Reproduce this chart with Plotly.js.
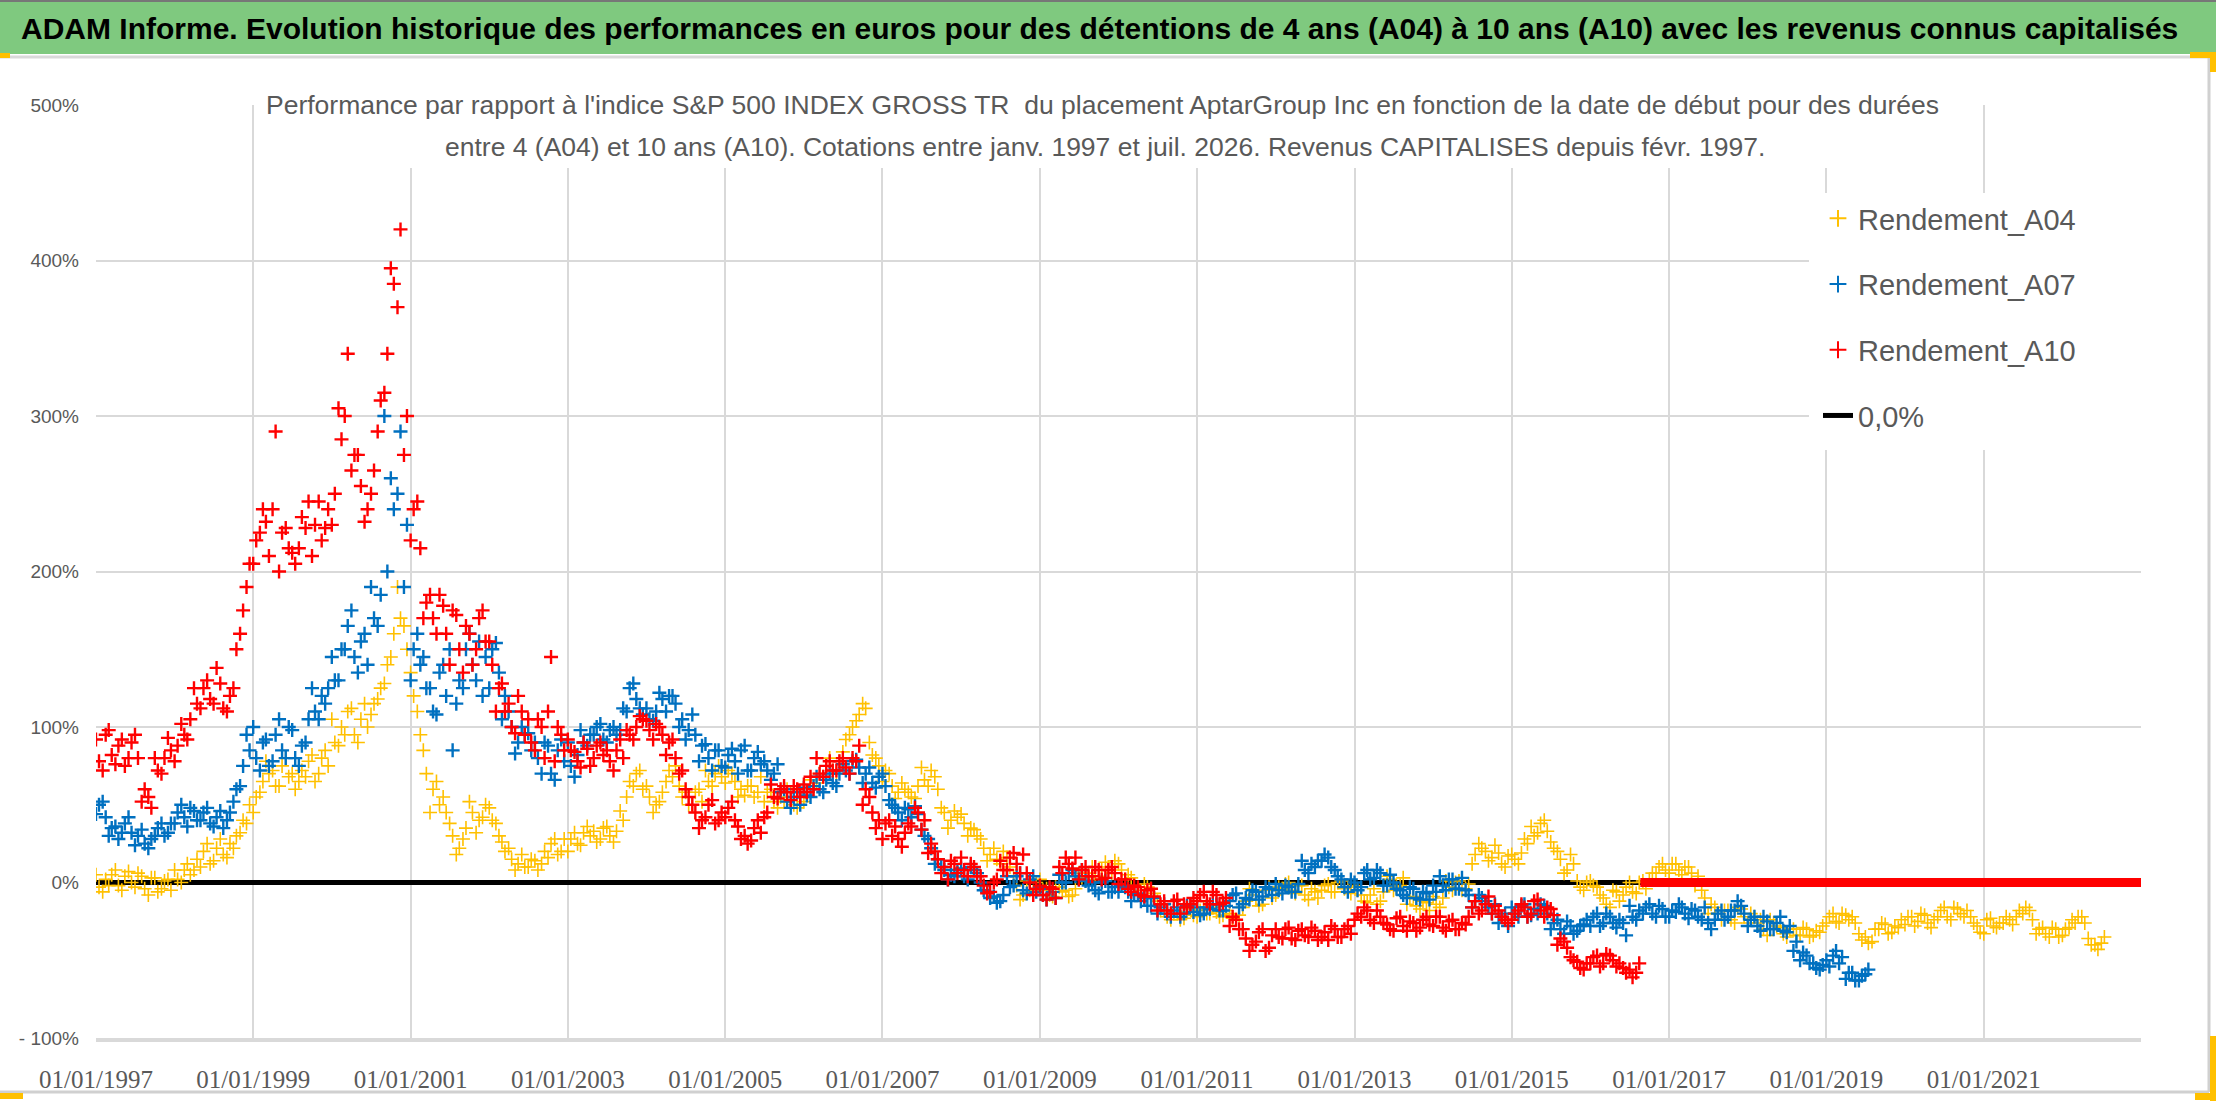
<!DOCTYPE html>
<html>
<head>
<meta charset="utf-8">
<script src="https://cdn.plot.ly/plotly-3.0.1.min.js"></script>
<style>
  html, body { margin: 0; padding: 0; background: #fff; }
  #chart { width: 2216px; height: 1102px; }
</style>
</head>
<body>
<div id="chart"></div>
<script>
// readings in %, one row per year starting January 1997.
// "mid" = around the 15th of each month, "early" = around the 1st (other side of the band)
var a04Mid = [
  -3, 2, 5, -2, 4, 0, 6, -4, 3, -6, 1, -5,            // 1997
  2, 8, 5, 15, 20, 12, 22, 18, 25, 30, 40, 50,        // 1998
  55, 65, 70, 62, 75, 68, 60, 72, 78, 65, 80, 75,     // 1999
  90, 100, 110, 95, 105, 100, 115, 125, 140, 160, 170, 150, // 2000
  120, 95, 70, 60, 50, 45, 30, 22, 35, 45, 40, 50,    // 2001
  40, 30, 20, 15, 12, 10, 15, 8, 20, 25, 18, 28,      // 2002
  28, 25, 32, 30, 26, 35, 30, 33, 40, 65, 70, 60,     // 2003
  55, 50, 58, 72, 75, 55, 50, 58, 52, 65, 70, 68,     // 2004
  72, 65, 60, 62, 55, 68, 58, 52, 55, 60, 50, 55,     // 2005
  58, 60, 70, 75, 72, 78, 92, 100, 108, 112, 82, 75,  // 2006
  72, 62, 58, 60, 55, 62, 66, 72, 60, 45, 40, 42,     // 2007
  38, 35, 30, 22, 18, 15, 20, 10, -2, -8, -5, 0,      // 2008
  -5, -8, -3, -6, -9, -4, 3, 6, 2, 8, 10, 14,         // 2009
  8, 5, -2, -5, -3, -7, -18, -22, -20, -24, -19, -21, // 2010
  -18, -20, -16, -22, -18, -23, -21, -12, -8, -15, -5, -10, // 2011
  -3, -1, -5, -2, -8, -4, -10, -2, -6, 0, -4, -7,     // 2012
  -5, -12, -8, -14, -6, 2, -3, 3, -10, -15, -12, -18, // 2013
  -14, -10, -3, 0, -5, -1, 18, 22, 14, 24, 12, 17,    // 2014
  15, 19, 25, 30, 38, 33, 22, 15, 8, 12, -3, 0,       // 2015
  -2, -8, -14, -5, -12, -3, -6, 0, -4, 6, 10, 8,      // 2016
  12, 8, 10, 6, 4, -10, -14, -20, -18, -24, -16, -22, // 2017
  -20, -26, -30, -24, -28, -33, -30, -34, -29, -35, -31, -28, // 2018
  -22, -25, -20, -24, -26, -37, -39, -30, -26, -33, -28, -24, // 2019
  -22, -28, -20, -26, -24, -18, -22, -16, -20, -18, -26, -32, // 2020
  -24, -28, -26, -22, -27, -18, -16, -24, -30, -33, -29, -35, // 2021
  -30, -24, -22, -26, -40, -43, -35                   // 2022
];
var a04Early = [
  5, -6, -2, 8, -5, 7, -3, 4, -8, 3, -4, 2,           // 1997
  8, 0, 12, 8, 10, 25, 14, 28, 16, 22, 32, 38,        // 1998
  45, 58, 78, 72, 62, 80, 70, 65, 68, 82, 70, 85,     // 1999
  105, 88, 95, 112, 90, 115, 108, 118, 128, 145, 190, 165, // 2000
  135, 110, 85, 45, 65, 55, 38, 18, 28, 52, 32, 42,   // 2001
  48, 38, 26, 22, 8, 18, 10, 14, 12, 16, 28, 20,      // 2002
  20, 32, 24, 36, 33, 28, 36, 26, 46, 55, 62, 72,     // 2003
  62, 45, 52, 65, 68, 62, 58, 50, 60, 72, 62, 75,     // 2004
  64, 70, 55, 56, 62, 58, 52, 60, 48, 52, 58, 48,     // 2005
  52, 66, 64, 68, 80, 70, 84, 95, 104, 115, 90, 80,   // 2006
  65, 70, 54, 64, 58, 54, 74, 62, 68, 48, 35, 46,     // 2007
  44, 30, 34, 28, 14, 22, 12, 16, 4, -11, 1, -6,      // 2008
  2, -4, -9, -3, -5, -8, 6, 1, 10, 4, 13, 6,          // 2009
  12, 2, 3, -8, -1, -4, -12, -18, -24, -20, -23, -17, // 2010
  -22, -17, -20, -19, -21, -20, -24, -16, -4, -11, -14, -3, // 2011
  -8, -4, 0, -7, -2, -11, -6, -5, -1, -6, 1, -3,      // 2012
  -2, -8, -13, -4, -12, 4, -5, -2, -14, -9, -17, -13, // 2013
  -9, -16, 1, -5, 1, -4, 12, 25, 20, 16, 19, 10,      // 2014
  18, 12, 28, 36, 32, 40, 26, 20, 6, 18, 1, -5,       // 2015
  1, -3, -10, -16, -6, -8, 0, -7, 1, 2, 6, 12,        // 2016
  6, 12, 5, 10, -2, -5, -20, -16, -24, -18, -26, -17, // 2017
  -26, -22, -24, -34, -26, -29, -35, -30, -34, -30, -34, -32, // 2018
  -26, -20, -26, -21, -22, -33, -35, -38, -30, -27, -32, -29, // 2019
  -27, -22, -25, -21, -29, -22, -16, -24, -17, -22, -22, -28, // 2020
  -33, -23, -29, -26, -24, -22, -20, -18, -33, -29, -35, -30, // 2021
  -34, -29, -26, -22, -36, -40, -39                   // 2022
];

var a07Mid = [
  50, 42, 35, 28, 38, 32, 30, 25, 28, 35, 30, 38,     // 1997
  45, 42, 48, 40, 45, 38, 42, 35, 45, 60, 75, 85,     // 1998
  80, 90, 75, 95, 85, 100, 80, 88, 105, 110, 120, 125, // 1999
  130, 150, 165, 145, 155, 140, 170, 185, 200, 240, 290, 230, // 2000
  150, 140, 125, 110, 135, 120, 85, 130, 150, 140, 155, 145, // 2001
  150, 135, 120, 100, 90, 95, 85, 80, 90, 70, 85, 78, // 2002
  75, 82, 90, 95, 100, 92, 98, 95, 112, 125, 118, 108, // 2003
  105, 110, 118, 120, 115, 105, 98, 95, 88, 80, 85, 75, // 2004
  82, 78, 85, 72, 80, 76, 72, 70, 58, 52, 55, 50,     // 2005
  56, 62, 60, 66, 64, 70, 72, 78, 74, 70, 64, 68,     // 2006
  62, 50, 45, 48, 42, 44, 30, 22, 15, 8, 5, 8,        // 2007
  4, 10, 6, -5, -10, -13, -8, -3, 4, -5, 2, -6,       // 2008
  -8, -4, -10, 0, 6, 4, 8, -2, -5, 0, -6, -3,         // 2009
  -2, -6, -8, -12, -15, -10, -16, -20, -18, -22, -15, -19, // 2010
  -21, -16, -14, -18, -15, -8, -16, -10, -5, -11, -3, -8, // 2011
  -5, -2, -6, -1, 8, 12, 14, 18, 10, 4, -3, 2,        // 2012
  -5, 6, 2, 8, -2, 5, -4, -8, -3, -10, -6, -11,       // 2013
  -6, -2, 2, -4, 3, -8, -12, -10, -16, -14, -22, -28, // 2014
  -20, -15, -22, -17, -14, -20, -26, -30, -25, -33, -28, -24, // 2015
  -22, -28, -20, -26, -24, -34, -22, -18, -16, -20, -15, -22, // 2016
  -18, -14, -20, -17, -22, -16, -30, -20, -24, -18, -12, -20, // 2017
  -24, -28, -22, -30, -26, -31, -28, -38, -45, -52, -55, -53, // 2018
  -54, -44, -48, -58, -63, -60, -56                   // 2019
];
var a07Early = [
  44, 52, 30, 36, 32, 42, 24, 34, 22, 30, 38, 32,     // 1997
  38, 50, 36, 46, 40, 48, 36, 46, 40, 52, 62, 95,     // 1998
  100, 72, 92, 78, 105, 80, 98, 75, 90, 125, 105, 115, // 1999
  145, 130, 150, 175, 135, 160, 190, 165, 300, 260, 250, 190, // 2000
  130, 160, 145, 125, 108, 140, 150, 115, 125, 160, 130, 120, // 2001
  125, 154, 105, 110, 83, 100, 96, 90, 70, 88, 66, 92, // 2002
  90, 68, 98, 88, 95, 102, 90, 100, 98, 110, 128, 112, // 2003
  112, 104, 122, 110, 120, 100, 92, 108, 78, 89, 72, 85, // 2004
  74, 86, 70, 88, 72, 84, 78, 66, 76, 60, 48, 58,     // 2005
  61, 55, 68, 58, 70, 62, 76, 70, 79, 64, 74, 61,     // 2006
  70, 53, 48, 40, 47, 49, 34, 28, 12, 10, 2, 4,       // 2007
  9, 2, 8, 0, -6, -9, -12, 4, -2, 6, -7, 4,           // 2008
  -3, -11, -6, 5, 0, 8, 2, 1, 0, -7, 1, -6,           // 2009
  -6, -3, -12, -7, -10, -15, -20, -14, -22, -16, -20, -14, // 2010
  -16, -20, -17, -14, -18, -12, -7, -14, -11, -6, -9, -4, // 2011
  -1, -7, -3, -6, 14, 6, 10, 14, 16, 8, 2, -6,        // 2012
  0, -3, 8, 3, 6, -2, 0, -5, -10, -4, -11, -7,        // 2013
  -2, 4, -5, 2, -4, -5, -16, -8, -12, -20, -26, -20,  // 2014
  -16, -22, -14, -21, -20, -15, -30, -24, -33, -28, -31, -27, // 2015
  -28, -20, -26, -22, -29, -26, -15, -24, -20, -14, -22, -17, // 2016
  -22, -19, -16, -23, -18, -24, -26, -24, -18, -22, -18, -15, // 2017
  -28, -22, -31, -25, -30, -22, -32, -44, -50, -47, -52, -56, // 2018
  -50, -47, -52, -62, -58, -63, -59                   // 2019
];

var a10Mid = [
  78, 95, 82, 88, 75, 90, 80, 60, 48, 72, 80, 85,     // 1997
  88, 95, 105, 115, 125, 118, 138, 112, 120, 150, 175, 205, // 1998
  220, 240, 210, 290, 225, 215, 205, 235, 245, 230, 220, 240, // 1999
  250, 285, 340, 275, 255, 240, 265, 310, 340, 385, 420, 300, // 2000
  240, 215, 180, 170, 185, 160, 175, 150, 165, 140, 170, 155, // 2001
  140, 125, 110, 100, 120, 95, 90, 105, 80, 145, 100, 85, // 2002
  85, 78, 90, 75, 88, 82, 78, 85, 80, 95, 100, 105,   // 2003
  98, 102, 95, 90, 80, 72, 55, 45, 40, 50, 38, 45,    // 2004
  48, 40, 28, 25, 35, 32, 45, 55, 60, 58, 62, 55,     // 2005
  58, 60, 70, 75, 72, 78, 74, 80, 88, 60, 45, 40,     // 2006
  38, 30, 28, 32, 36, 45, 40, 25, 15, 10, 14, 6,      // 2007
  8, 12, 4, -2, -6, 2, 8, 16, 12, 18, 0, -4,          // 2008
  -8, -3, -10, 6, 12, 16, 8, 4, 10, 2, 8, 6,          // 2009
  2, -4, -2, -8, -5, -9, -14, -18, -12, -20, -16, -10, // 2010
  -8, -12, -6, -14, -10, -22, -30, -36, -40, -32, -44, -34, // 2011
  -35, -30, -36, -31, -34, -29, -37, -32, -28, -35, -30, -33, // 2012
  -20, -16, -24, -18, -26, -30, -23, -28, -25, -31, -24, -27, // 2013
  -22, -29, -25, -30, -26, -22, -12, -18, -9, -15, -22, -26, // 2014
  -20, -14, -22, -12, -18, -16, -21, -36, -42, -50, -55, -52, // 2015
  -48, -54, -46, -50, -52, -58, -61, -52              // 2016
];
var a10Early = [
  92, 72, 98, 76, 92, 80, 95, 52, 55, 80, 70, 93,     // 1997
  78, 102, 92, 125, 112, 130, 115, 128, 110, 125, 160, 190, // 1998
  205, 225, 232, 240, 200, 228, 212, 215, 228, 210, 245, 228, // 1999
  230, 305, 300, 265, 275, 232, 250, 290, 315, 395, 370, 275, // 2000
  220, 245, 170, 185, 160, 178, 140, 172, 135, 160, 150, 175, // 2001
  155, 110, 128, 115, 96, 110, 105, 85, 100, 110, 78, 95, // 2002
  92, 84, 74, 86, 80, 90, 85, 72, 92, 98, 92, 107,    // 2003
  104, 92, 100, 82, 92, 70, 60, 50, 35, 42, 53, 40,   // 2004
  42, 52, 36, 30, 27, 40, 42, 63, 54, 62, 53, 60,     // 2005
  63, 68, 80, 68, 78, 72, 80, 70, 78, 50, 55, 35,     // 2006
  28, 40, 36, 23, 38, 48, 34, 19, 20, 6, 2, 12,       // 2007
  16, 4, 10, 4, -7, 0, 14, 8, 19, 6, 6, -8,           // 2008
  -2, -11, -4, 10, 16, 9, 2, 10, 4, 8, 3, 10,         // 2009
  -1, 2, -6, -3, -9, -4, -18, -12, -20, -11, -14, -14, // 2010
  -12, -6, -14, -8, -13, -28, -24, -30, -44, -38, -30, -42, // 2011
  -30, -36, -29, -37, -30, -35, -31, -35, -37, -30, -35, -28, // 2012
  -24, -22, -18, -26, -22, -27, -31, -22, -31, -26, -29, -22, // 2013
  -28, -22, -31, -24, -30, -27, -16, -20, -14, -20, -18, -24, // 2014
  -24, -18, -16, -20, -11, -22, -17, -40, -38, -48, -51, -56, // 2015
  -52, -47, -52, -47, -54, -55, -56, -58              // 2016
];
var startYear = 1997;

// after the last start date the series sit at 0 until the end of the axis
var a04TailX = ['2022-07-20', '2023-01-01'];
var a10TailX = ['2016-08-20', '2023-01-01'];
var tailY = [0, 0];

var zeroX = ['1997-01-01', '2023-01-01'];
var zeroY = [0, 0];

var xTicks = ['1997-01-01', '1999-01-01', '2001-01-01', '2003-01-01', '2005-01-01', '2007-01-01',
  '2009-01-01', '2011-01-01', '2013-01-01', '2015-01-01', '2017-01-01', '2019-01-01', '2021-01-01'];
var yTicks = [-100, 0, 100, 200, 300, 400, 500];
var yTickText = ['- 100%', '0%', '100%', '200%', '300%', '400%', '500%'];

function monthDates(y0, n, day) {
  var out = [];
  for (var i = 0; i < n; i++) {
    var y = y0 + Math.floor(i / 12);
    var m = (i % 12) + 1;
    out.push(y + '-' + (m < 10 ? '0' + m : m) + '-' + day);
  }
  return out;
}

var GREY = '#595959';
var YELLOW = '#FFC000', BLUE = '#0070C0', RED = '#FF0000';

// pixel -> paper helpers (plot area 96..2141 x 105..1038)
function px(x) { return (x - 96) / 2045; }
function py(y) { return (1038 - y) / 933; }

function crossTrace(name, mid, early, color, w, rank) {
  return {
    type: 'scatter', mode: 'markers', name: name,
    x: monthDates(startYear, mid.length, '15').concat(monthDates(startYear, early.length, '01')),
    y: mid.concat(early),
    legendgroup: name, legendrank: rank,
    marker: { symbol: 'cross-thin', size: 10, color: color, line: { color: color, width: w } },
    hoverinfo: 'x+y'
  };
}

var traces = [
  { type: 'scatter', mode: 'lines', name: '0,0%', x: zeroX, y: zeroY,
    legendgroup: 'zero', legendrank: 4, line: { color: '#000', width: 5 } },
  crossTrace('Rendement_A04', a04Mid, a04Early, YELLOW, 1.6, 1),
  { type: 'scatter', mode: 'lines', x: a04TailX, y: tailY, showlegend: false,
    line: { color: YELLOW, width: 9 }, hoverinfo: 'skip' },
  crossTrace('Rendement_A07', a07Mid, a07Early, BLUE, 2.4, 2),
  crossTrace('Rendement_A10', a10Mid, a10Early, RED, 2.4, 3),
  { type: 'scatter', mode: 'lines', x: a10TailX, y: tailY, showlegend: false,
    line: { color: RED, width: 9 }, hoverinfo: 'skip' }
];

var shapes = [
  // green title band
  { type: 'rect', xref: 'paper', yref: 'paper', x0: px(0), x1: px(2216), y0: py(54), y1: py(0),
    fillcolor: '#7fc97f', line: { width: 0 }, layer: 'below' },
  { type: 'line', xref: 'paper', yref: 'paper', x0: px(0), x1: px(2216), y0: py(1), y1: py(1),
    line: { color: '#777', width: 2 } },
  // chart frame
  { type: 'line', xref: 'paper', yref: 'paper', x0: px(0), x1: px(2209), y0: py(57), y1: py(57),
    line: { color: '#d9d9d9', width: 3 } },
  { type: 'line', xref: 'paper', yref: 'paper', x0: px(2209), x1: px(2209), y0: py(57), y1: py(1092),
    line: { color: '#d0d0d0', width: 3 } },
  { type: 'line', xref: 'paper', yref: 'paper', x0: px(0), x1: px(2209), y0: py(1092), y1: py(1092),
    line: { color: '#d0d0d0', width: 3 } },
  // selection handles
  { type: 'rect', xref: 'paper', yref: 'paper', x0: px(0), x1: px(10), y0: py(58), y1: py(53),
    fillcolor: '#FFC000', line: { width: 0 } },
  { type: 'rect', xref: 'paper', yref: 'paper', x0: px(2190), x1: px(2216), y0: py(58), y1: py(52),
    fillcolor: '#FFC000', line: { width: 0 } },
  { type: 'rect', xref: 'paper', yref: 'paper', x0: px(2210), x1: px(2216), y0: py(72), y1: py(52),
    fillcolor: '#FFC000', line: { width: 0 } },
  { type: 'rect', xref: 'paper', yref: 'paper', x0: px(0), x1: px(23), y0: py(1099), y1: py(1093),
    fillcolor: '#FFC000', line: { width: 0 } },
  { type: 'rect', xref: 'paper', yref: 'paper', x0: px(2210), x1: px(2216), y0: py(1101), y1: py(1036),
    fillcolor: '#FFC000', line: { width: 0 } },
  { type: 'rect', xref: 'paper', yref: 'paper', x0: px(2195), x1: px(2216), y0: py(1100), y1: py(1093),
    fillcolor: '#FFC000', line: { width: 0 } },
  // white block behind the chart title (no data there, legend/annotations stay on top)
  { type: 'rect', xref: 'paper', yref: 'paper', x0: px(258), x1: px(1948), y0: py(168), y1: py(84),
    fillcolor: '#fff', line: { width: 0 }, layer: 'above' },
  // white block behind the legend, up to the right edge of the plot
  { type: 'rect', xref: 'paper', yref: 'paper', x0: px(1809), x1: px(2142), y0: py(450), y1: py(193),
    fillcolor: '#fff', line: { width: 0 }, layer: 'above' }
];

var annotations = [
  { xref: 'paper', yref: 'paper', x: px(1099), y: py(28), xanchor: 'center', yanchor: 'middle',
    showarrow: false,
    text: 'ADAM Informe. Evolution historique des performances en euros pour des détentions de 4 ans (A04) à 10 ans (A10) avec les revenus connus capitalisés',
    font: { family: 'Liberation Sans', size: 30, color: '#000', weight: 'bold' } },
  { xref: 'paper', yref: 'paper', x: px(1102), y: py(105), xanchor: 'center', yanchor: 'middle',
    showarrow: false,
    text: "Performance par rapport à l'indice S&amp;P 500 INDEX GROSS TR  du placement AptarGroup Inc en fonction de la date de début pour des durées",
    font: { family: 'Liberation Sans', size: 26.5, color: GREY } },
  { xref: 'paper', yref: 'paper', x: px(1105), y: py(147), xanchor: 'center', yanchor: 'middle',
    showarrow: false,
    text: 'entre 4 (A04) et 10 ans (A10). Cotations entre janv. 1997 et juil. 2026. Revenus CAPITALISES depuis févr. 1997.',
    font: { family: 'Liberation Sans', size: 26.5, color: GREY } }
];

var layout = {
  width: 2216, height: 1102, autosize: false,
  margin: { l: 96, r: 75, t: 105, b: 64, pad: 0 },
  paper_bgcolor: '#fff', plot_bgcolor: '#fff',
  font: { family: 'Liberation Sans', color: GREY },
  showlegend: true,
  legend: {
    x: px(1818), y: py(193), xanchor: 'left', yanchor: 'top',
    bgcolor: '#fff', borderwidth: 0, tracegroupgap: 25,
    font: { family: 'Liberation Sans', size: 29, color: GREY },
    itemsizing: 'constant'
  },
  xaxis: {
    type: 'date', range: ['1997-01-01', '2023-01-01'],
    tickvals: xTicks, tickformat: '%d/%m/%Y',
    showgrid: true, gridcolor: '#d9d9d9', gridwidth: 2,
    showline: true, linecolor: '#d9d9d9', linewidth: 4,
    zeroline: false, ticks: '', ticklabelstandoff: 16,
    tickfont: { family: 'Liberation Sans Narrow', size: 25, color: GREY }
  },
  yaxis: {
    range: [-100, 500], tickvals: yTicks, ticktext: yTickText,
    showgrid: true, gridcolor: '#d9d9d9', gridwidth: 2,
    zeroline: false, showline: false, ticks: '', ticklabelstandoff: 16,
    tickfont: { family: 'Liberation Sans', size: 19, color: GREY }
  },
  shapes: shapes,
  annotations: annotations
};

Plotly.newPlot('chart', traces, layout, { displayModeBar: false, staticPlot: true });
</script>
</body>
</html>
